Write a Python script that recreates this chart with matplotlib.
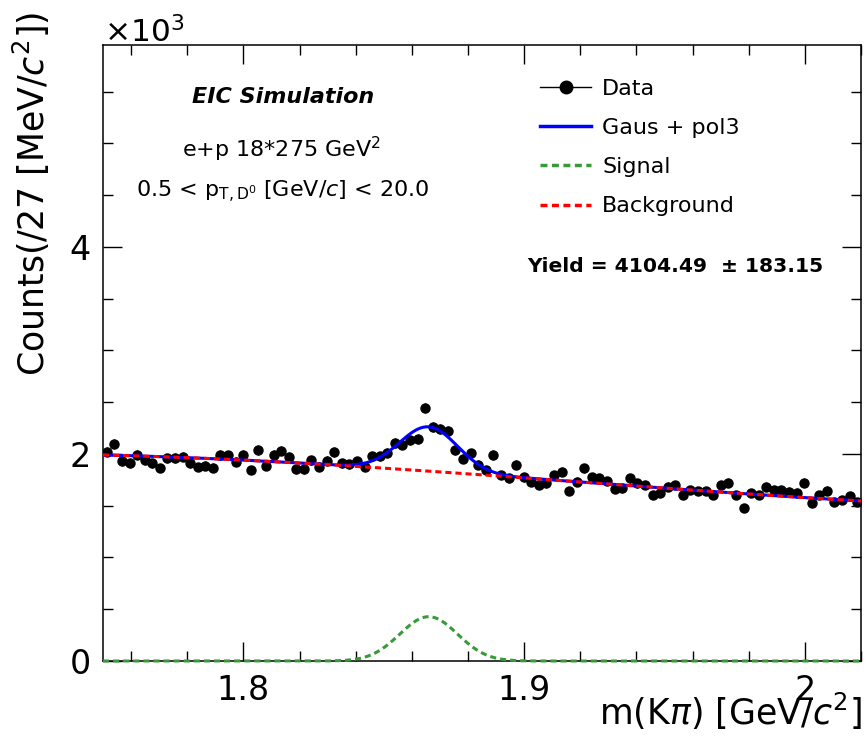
"""D0 -> K pi invariant mass spectrum with Gaus + pol3 fit (ROOT-style look)."""

import numpy as np
import matplotlib
matplotlib.use("Agg")
import matplotlib.pyplot as plt
from matplotlib.lines import Line2D
from matplotlib.ticker import MultipleLocator, FuncFormatter

# histogram binning (GeV/c^2)
mass_lo = 1.75
mass_hi = 2.02
n_bins = 100

# counts per bin
counts = [
    2022, 2097, 1930, 1908, 1994, 1942, 1911, 1864, 1958, 1960,
    1972, 1911, 1874, 1885, 1868, 1989, 1986, 1926, 1990, 1845,
    2039, 1885, 1994, 2032, 1970, 1853, 1853, 1938, 1876, 1935,
    2019, 1911, 1902, 1928, 1876, 1978, 1976, 2013, 2105, 2090,
    2130, 2147, 2443, 2264, 2240, 2223, 2039, 1955, 2007, 1894,
    1845, 1990, 1797, 1765, 1894, 1775, 1733, 1700, 1717, 1797,
    1829, 1643, 1733, 1862, 1775, 1765, 1739, 1659, 1668, 1765,
    1717, 1700, 1604, 1620, 1684, 1700, 1604, 1652, 1643, 1643,
    1604, 1700, 1723, 1604, 1475, 1620, 1604, 1684, 1652, 1652,
    1636, 1626, 1723, 1530, 1604, 1646, 1539, 1556, 1594, 1539,
]

# fit result: gaussian signal
sig_amp = 428.0
sig_mean = 1.866
sig_sigma = 0.0103
# pol3 background, in t = m - mass_lo
bkg_coef = [1990.0, -633.2, -7944.0, 15552.0]

yield_val = 4104.49
yield_err = 183.15

GREEN = "#3a9a3a"
FIG_W, FIG_H = 867, 738


def px(x, y):
    """pixel position in the 867x738 canvas -> figure fraction"""
    return x / FIG_W, 1 - y / FIG_H


plt.rcParams["font.family"] = ["DejaVu Sans"]
plt.rcParams["mathtext.fontset"] = "dejavusans"

fig = plt.figure(figsize=(8.67, 7.38), dpi=100)
ax = fig.add_axes([103 / FIG_W, 1 - 661 / FIG_H, (861 - 103) / FIG_W, (661 - 45) / FIG_H])

edges = np.linspace(mass_lo, mass_hi, n_bins + 1)
centers = 0.5 * (edges[1:] + edges[:-1])
counts = np.array(counts, dtype=float)

ax.errorbar(centers, counts, yerr=np.sqrt(counts), fmt="o", color="black",
            ms=6.5, elinewidth=1, capsize=0, zorder=2)

m = np.linspace(mass_lo, mass_hi, 600)
t = m - mass_lo
bkg = bkg_coef[0] + bkg_coef[1] * t + bkg_coef[2] * t**2 + bkg_coef[3] * t**3
sig = sig_amp * np.exp(-0.5 * ((m - sig_mean) / sig_sigma) ** 2)

dots = (0, (2, 1.3))
ax.plot(m, bkg + sig, color="blue", lw=2.2, zorder=3)
ax.plot(m, bkg, color="red", lw=2.2, ls=dots, zorder=4)
ax.plot(m, sig, color=GREEN, lw=2.2, ls=dots, zorder=4, clip_on=False)

ax.set_xlim(mass_lo, mass_hi)
ax.set_ylim(0, 5950)

ax.xaxis.set_major_locator(MultipleLocator(0.1))
ax.xaxis.set_minor_locator(MultipleLocator(0.02))
ax.yaxis.set_major_locator(MultipleLocator(2000))
ax.yaxis.set_minor_locator(MultipleLocator(500))
ax.xaxis.set_major_formatter(FuncFormatter(lambda v, p: f"{v:g}"))
ax.yaxis.set_major_formatter(FuncFormatter(lambda v, p: f"{v / 1000:g}"))
ax.tick_params(which="both", direction="in", top=True, right=True, width=1, labelsize=24)
ax.tick_params(which="major", length=14)
ax.tick_params(which="minor", length=7)
ax.tick_params(axis="x", pad=9)
ax.tick_params(axis="y", pad=9)
for s in ax.spines.values():
    s.set_linewidth(1.1)

fig.text(*px(104, 42), r"$\times$10$^3$", fontsize=22.5, ha="left", va="baseline")
fig.text(*px(31, 12), r"Counts(/27 [MeV/$c^2$])", fontsize=25, rotation=90,
         ha="center", va="top")
fig.text(*px(862, 725), r"m(K$\pi$) [GeV/$c^2$]", fontsize=25, ha="right", va="baseline")

fig.text(*px(283, 97), "EIC Simulation", fontsize=16, fontweight="bold",
         fontstyle="italic", ha="center", va="center")
fig.text(*px(282, 149), r"e+p 18*275 GeV$^2$", fontsize=16, ha="center", va="center")
fig.text(*px(283, 192), r"0.5 < p$_{\mathrm{T,D^0}}$ [GeV/$c$] < 20.0", fontsize=16,
         ha="center", va="center")
fig.text(*px(527, 266), f"Yield = {yield_val:.2f}  \u00b1 {yield_err:.2f}", fontsize=14.6,
         fontweight="bold", ha="left", va="center")

handles = [
    Line2D([], [], color="black", lw=1, marker="o", ms=9),
    Line2D([], [], color="blue", lw=2.5),
    Line2D([], [], color=GREEN, lw=2.5, ls=dots),
    Line2D([], [], color="red", lw=2.5, ls=dots),
]
labels = ["Data", "Gaus + pol3", "Signal", "Background"]
fig.legend(handles, labels, loc="upper left", bbox_to_anchor=px(540, 79),
           frameon=False, fontsize=16, numpoints=1, handlelength=2.3,
           handletextpad=0.5, labelspacing=0.86, borderpad=0, borderaxespad=0)

fig.savefig("out.png", dpi=100)
